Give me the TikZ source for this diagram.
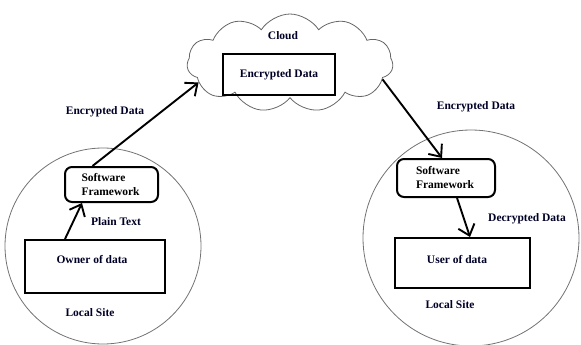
\documentclass[tikz,border=0pt]{standalone}
\usepackage{fontspec}
\setmainfont{Liberation Serif}
\usetikzlibrary{shapes.symbols,arrows.meta,calc}
\begin{document}
\begin{tikzpicture}[x=1pt,y=-1pt,
  every node/.style={font=\fontsize{11.5}{14}\selectfont\bfseries, inner sep=0pt},
  sitecircle/.style={circle, draw=black!55, line width=0.8pt},
  databox/.style={rectangle, draw=black, line width=2pt},
  fwbox/.style={rectangle, rounded corners=7pt, draw=black, line width=2pt, align=left, text width=60pt},
  flow/.style={line width=1.9pt, -{Straight Barb[length=10pt,width=17pt,line width=1.9pt]}},
  lbl/.style={text=black!85!blue}
]
\useasboundingbox (0,0) rectangle (581,345);
% sites
\node[sitecircle, minimum size=196pt] (siteL) at (103,246) {};
\node[sitecircle, minimum size=216pt] (siteR) at (471,238) {};
% cloud
\node[cloud, cloud puffs=11, cloud puff arc=115, cloud ignores aspect, draw=black!60, line width=0.8pt,
      minimum width=206pt, minimum height=98pt] (cloud) at (290,63) {};
\node[lbl] (cloudlbl) at (283,36) {Cloud};
\node[databox, minimum width=112pt, minimum height=41pt] (enc) at (279,74.5) {};
\node[lbl] (enctxt) at (279,75) {Encrypted Data};
% left site
\node[fwbox, minimum width=93pt, minimum height=35pt] (fwL) at (111.5,184.5) {Software\\Framework};
\node[databox, minimum width=140pt, minimum height=53pt] (owner) at (95,266.5) {};
\node[lbl] (ownertxt) at (92,260) {Owner of data};
\node[lbl] (localL) at (90,313) {Local Site};
% right site
\node[fwbox, minimum width=98pt, minimum height=38pt] (fwR) at (446,178) {Software\\Framework};
\node[databox, minimum width=135pt, minimum height=50pt] (user) at (462.5,263) {};
\node[lbl] (usertxt) at (457,260) {User of data};
\node[lbl] (localR) at (450,305) {Local Site};
% connectors
\draw[flow] ($(owner.north)+(-30,0)$) -- ($(fwL.south)+(-29.5,0)$);
\node[lbl] (plain) at (116,222) {Plain Text};
\draw[flow] ($(fwL.north)+(-19,0)$) -- (cloud.192);
\node[lbl] (encL) at (105,112) {Encrypted Data};
\draw[flow] (cloud.-10) -- ($(fwR.north)+(-4,0)$);
\node[lbl] (encR) at (476,107) {Encrypted Data};
\draw[flow] ($(fwR.south)+(11,0)$) -- ($(user.north)+(7.5,0)$);
\node[lbl] (decR) at (527,219) {Decrypted Data};
\end{tikzpicture}
\end{document}
